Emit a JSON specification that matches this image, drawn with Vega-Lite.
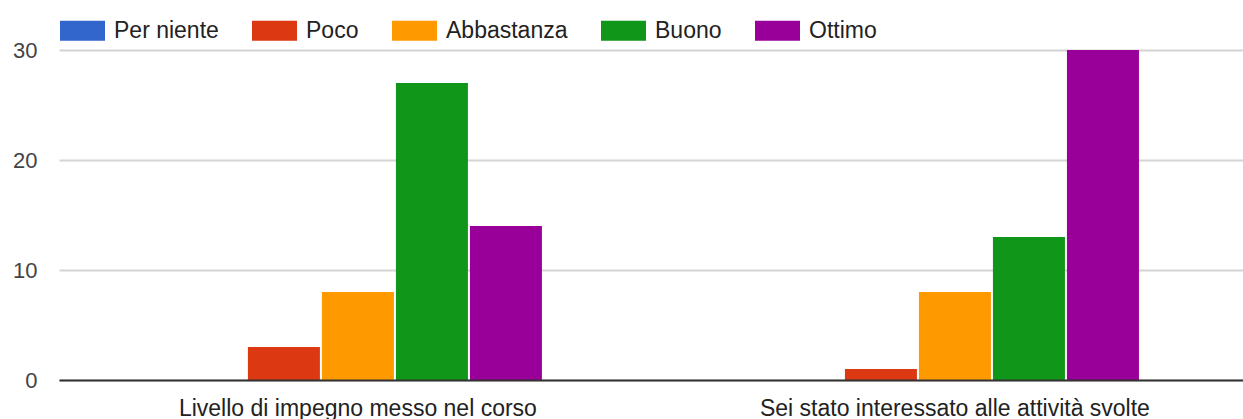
{
  "$schema": "https://vega.github.io/schema/vega-lite/v6.json",
  "width": 1184,
  "height": 330,
  "autosize": {"type": "none"},
  "padding": {"left": 59, "top": 50, "right": 0, "bottom": 39},
  "background": "white",
  "config": {
    "font": "Liberation Sans",
    "view": {"stroke": null}
  },
  "data": {
    "values": [
      {"domanda": "Livello di impegno messo nel corso", "livello": "Per niente", "valore": 0},
      {"domanda": "Livello di impegno messo nel corso", "livello": "Poco", "valore": 3},
      {"domanda": "Livello di impegno messo nel corso", "livello": "Abbastanza", "valore": 8},
      {"domanda": "Livello di impegno messo nel corso", "livello": "Buono", "valore": 27},
      {"domanda": "Livello di impegno messo nel corso", "livello": "Ottimo", "valore": 14},
      {"domanda": "Sei stato interessato alle attività svolte", "livello": "Per niente", "valore": 0},
      {"domanda": "Sei stato interessato alle attività svolte", "livello": "Poco", "valore": 1},
      {"domanda": "Sei stato interessato alle attività svolte", "livello": "Abbastanza", "valore": 8},
      {"domanda": "Sei stato interessato alle attività svolte", "livello": "Buono", "valore": 13},
      {"domanda": "Sei stato interessato alle attività svolte", "livello": "Ottimo", "valore": 30}
    ]
  },
  "mark": {"type": "bar", "stroke": null},
  "encoding": {
    "x": {
      "field": "domanda",
      "type": "nominal",
      "sort": null,
      "title": null,
      "scale": {"paddingInner": 0.3802, "paddingOuter": 0.1817, "align": 0.525},
      "axis": {
        "labelAngle": 0,
        "labelFontSize": 23,
        "labelColor": "#222222",
        "labelPadding": 17,
        "labelLimit": 0,
        "ticks": false,
        "domain": true,
        "domainColor": "#333333",
        "domainWidth": 2,
        "grid": false,
        "zindex": 1
      }
    },
    "xOffset": {
      "field": "livello",
      "type": "nominal",
      "sort": ["Per niente", "Poco", "Abbastanza", "Buono", "Ottimo"],
      "scale": {"paddingInner": 0.027, "paddingOuter": 0.0135}
    },
    "y": {
      "field": "valore",
      "type": "quantitative",
      "title": null,
      "scale": {"domain": [0, 30], "nice": false},
      "axis": {
        "values": [0, 10, 20, 30],
        "labelFontSize": 22,
        "labelColor": "#444444",
        "labelPadding": 22,
        "ticks": false,
        "domain": false,
        "grid": true,
        "gridColor": "#d4d4d4",
        "gridWidth": 2
      }
    },
    "color": {
      "field": "livello",
      "type": "nominal",
      "sort": ["Per niente", "Poco", "Abbastanza", "Buono", "Ottimo"],
      "scale": {
        "domain": ["Per niente", "Poco", "Abbastanza", "Buono", "Ottimo"],
        "range": ["#3366cc", "#dc3912", "#ff9900", "#109618", "#990099"]
      },
      "legend": {
        "title": null,
        "orient": "none",
        "direction": "horizontal",
        "columns": 5,
        "legendX": 1,
        "legendY": -42,
        "padding": 0,
        "symbolType": "M-1,-0.44H1V0.44H-1Z",
        "symbolSize": 2025,
        "symbolStrokeWidth": 0,
        "symbolOpacity": 1,
        "labelFontSize": 23,
        "labelColor": "#222222",
        "labelOffset": 9,
        "columnPadding": 33,
        "labelLimit": 400
      }
    }
  }
}
